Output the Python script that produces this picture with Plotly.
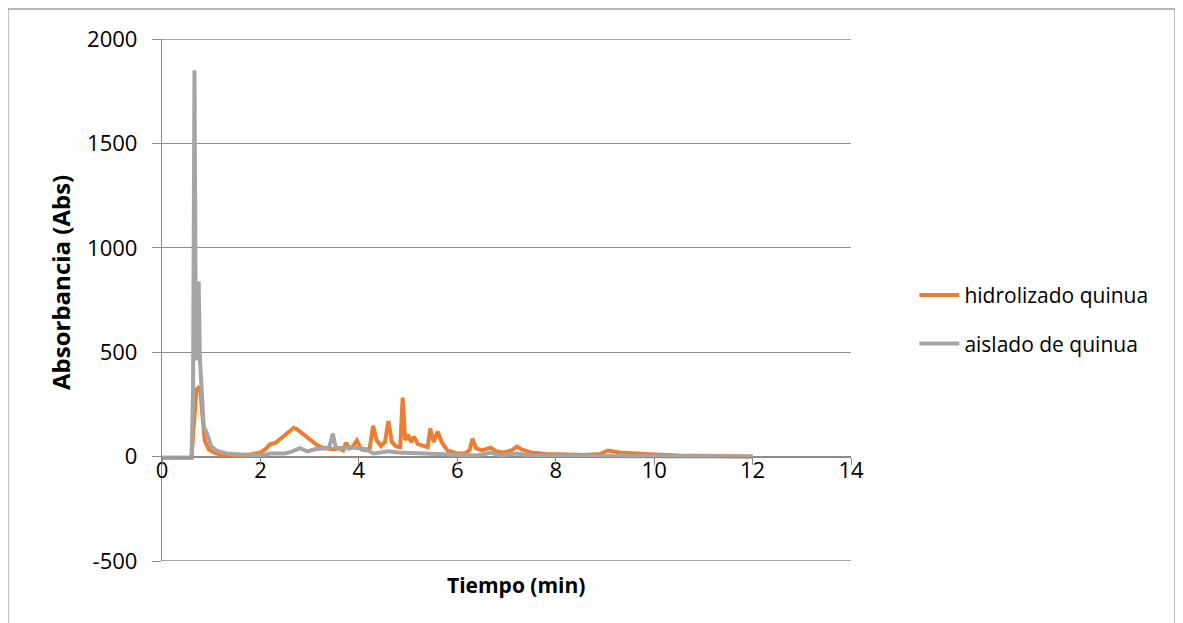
import plotly.graph_objects as go

# ---- data ----
tiempo_hidrolizado = [0, 0.3, 0.6, 0.63, 0.66, 0.7, 0.74, 0.78, 0.82, 0.87,
                      0.95, 1.05, 1.2, 1.5, 1.8, 2.0, 2.1, 2.2, 2.3, 2.4,
                      2.5, 2.6, 2.68, 2.75, 2.85, 3.0, 3.15, 3.3, 3.5, 3.6,
                      3.68, 3.74, 3.8, 3.87, 3.96, 4.05, 4.15, 4.22, 4.29, 4.36,
                      4.45, 4.53, 4.6, 4.67, 4.75, 4.84, 4.89, 4.94, 5.0, 5.06,
                      5.12, 5.2, 5.3, 5.4, 5.45, 5.52, 5.6, 5.68, 5.8, 6.0,
                      6.15, 6.25, 6.31, 6.38, 6.5, 6.6, 6.68, 6.8, 6.95, 7.1,
                      7.21, 7.3, 7.5, 7.8, 8.2, 8.6, 8.9, 9.06, 9.3, 9.6,
                      10.0, 10.5, 11.0, 11.5, 12.0]
abs_hidrolizado = [-5, -5, -5, 100, 220, 320, 330, 320, 200, 77,
                   35, 20, 8, 5, 10, 20, 35, 60, 65, 85,
                   105, 125, 138, 130, 110, 80, 55, 40, 35, 40,
                   30, 67, 40, 45, 77, 35, 30, 40, 148, 80,
                   50, 70, 170, 70, 50, 45, 282, 80, 105, 70,
                   95, 60, 50, 45, 135, 70, 121, 70, 30, 15,
                   15, 30, 86, 40, 30, 35, 43, 25, 20, 30,
                   48, 35, 20, 12, 10, 8, 12, 29, 20, 15,
                   10, 5, 3, 1, 0]

tiempo_aislado = [0, 0.3, 0.6, 0.63, 0.66, 0.68, 0.7, 0.72, 0.745, 0.77,
                  0.8, 0.85, 0.9, 1.0, 1.1, 1.3, 1.6, 2.0, 2.2, 2.5,
                  2.65, 2.8, 2.95, 3.1, 3.3, 3.4, 3.47, 3.53, 3.6, 3.8,
                  4.0, 4.15, 4.3, 4.45, 4.6, 4.8, 5.0, 5.3, 5.6, 6.0,
                  6.4, 6.68, 6.9, 7.2, 7.5, 8.0, 9.0, 10.0, 11.0, 12.0]
abs_aislado = [-5, -5, -5, 300, 1850, 900, 460, 650, 840, 470,
               350, 140, 120, 50, 30, 15, 10, 5, 15, 15,
               25, 40, 25, 35, 40, 45, 110, 45, 40, 45,
               40, 35, 15, 20, 25, 20, 18, 12, 10, 5,
               5, 18, 5, 15, 5, 3, 3, 2, 1, 0]

serie_nombres = ["hidrolizado quinua", "aislado de quinua"]
x_ticks = [0, 2, 4, 6, 8, 10, 12, 14]
y_ticks = [-500, 0, 500, 1000, 1500, 2000]

FONT = "Open Sans"
AXC = "#8c8c8c"

fig = go.Figure()
fig.add_trace(go.Scatter(x=tiempo_hidrolizado, y=abs_hidrolizado, mode="lines",
                         name=serie_nombres[0], legendgroup="a",
                         line=dict(color="#ED7D31", width=4)))
fig.add_trace(go.Scatter(x=tiempo_aislado, y=abs_aislado, mode="lines",
                         name=serie_nombres[1], legendgroup="b",
                         line=dict(color="#A5A5A5", width=4)))

# page has an 8px body margin; plot area in page px: x 162..851, y 39..561
fig.update_layout(
    width=1183, height=623,
    margin=dict(l=154, r=340, t=31, b=70),
    paper_bgcolor="white", plot_bgcolor="white",
    font=dict(family=FONT, size=22, color="black"),
    showlegend=True,
    legend=dict(x=1.092, y=0.548, xanchor="left", yanchor="top",
                traceorder="grouped", tracegroupgap=18,
                font=dict(family=FONT, size=21, color="black"),
                bgcolor="rgba(0,0,0,0)", itemwidth=40),
    # labels-only x axis
    xaxis=dict(range=[0, 14], tickvals=x_ticks, ticktext=[str(v) for v in x_ticks],
               showgrid=False, zeroline=False, showline=False, ticks="",
               anchor="free", position=0.2 + 2 / 522,
               tickfont=dict(family=FONT, size=22, color="black")),
    # line + tick marks x axis at y = 0
    xaxis2=dict(range=[0, 14], tickvals=x_ticks, overlaying="x", matches="x",
                showgrid=False, zeroline=False, showline=True, linecolor=AXC, linewidth=1.3,
                ticks="outside", ticklen=7, tickcolor=AXC, tickwidth=1.3,
                showticklabels=False, anchor="free", position=0.2, side="bottom"),
    yaxis=dict(range=[-500, 2000], tickvals=y_ticks, ticktext=[str(v) for v in y_ticks],
               showgrid=True, gridcolor=AXC, gridwidth=1.3, zeroline=False,
               showline=True, linecolor=AXC, linewidth=1.3,
               ticks="outside", ticklen=9, tickcolor=AXC, tickwidth=1.3,
               ticklabelstandoff=10,
               tickfont=dict(family=FONT, size=22, color="black")),
)
# invisible trace to activate xaxis2
fig.add_trace(go.Scatter(x=[0, 14], y=[0, 0], xaxis="x2", mode="lines",
                         line=dict(width=0, color="rgba(0,0,0,0)"),
                         showlegend=False, hoverinfo="skip"))

# gridlines at the range ends (plotly omits those at the plot edges)
for gv in (y_ticks[0], y_ticks[-1]):
    fig.add_shape(type="line", xref="paper", yref="y", x0=0, x1=1, y0=gv, y1=gv,
                  line=dict(color=AXC, width=1.3), layer="below")

fig.add_annotation(text="<b>Tiempo (min)</b>", xref="paper", yref="paper",
                   x=(516 - 162) / 689, y=(561 - 585) / 522, xanchor="center", yanchor="middle",
                   showarrow=False, font=dict(family=FONT, size=21, color="black"))
fig.add_annotation(text="<b>Absorbancia (Abs)</b>", xref="paper", yref="paper",
                   x=(60 - 162) / 689, y=(561 - 283) / 522, xanchor="center", yanchor="middle",
                   showarrow=False, textangle=-90,
                   font=dict(family=FONT, size=24, color="black"))

# outer chart border (page px 8..1175 x 9..bottom)
fig.add_shape(type="rect", xref="paper", yref="paper",
              x0=(8 - 162) / 689, x1=(1175 - 162) / 689,
              y0=(561 - 632) / 522, y1=(561 - 9) / 522,
              line=dict(color="#a0a0a0", width=1.3), fillcolor="rgba(0,0,0,0)", layer="below")

fig.write_html("out.html")
